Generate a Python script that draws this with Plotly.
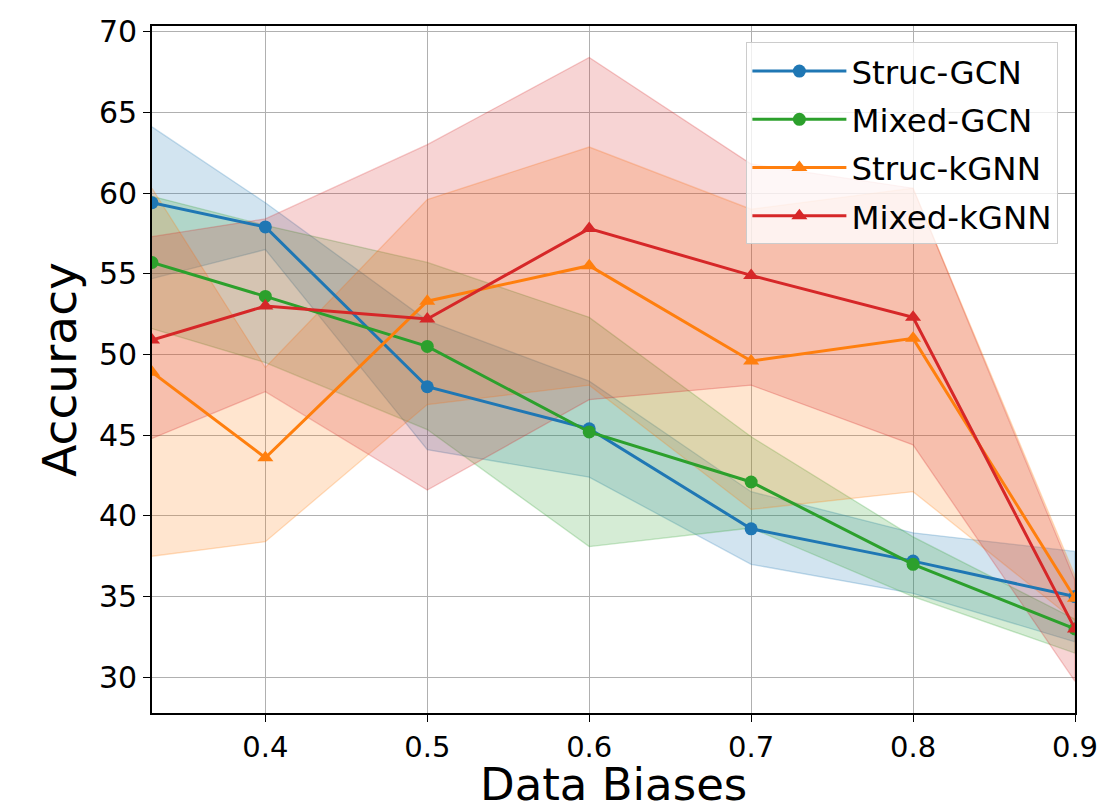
import plotly.graph_objects as go

x_vals = [0.33, 0.4, 0.5, 0.6, 0.7, 0.8, 0.9]
x_ticks = [0.4, 0.5, 0.6, 0.7, 0.8, 0.9]
y_ticks = [30, 35, 40, 45, 50, 55, 60, 65, 70]

series_names = ["Struc-GCN", "Mixed-GCN", "Struc-kGNN", "Mixed-kGNN"]

struc_gcn_mean = [59.4, 57.9, 48.0, 45.4, 39.2, 37.2, 35.0]
struc_gcn_upper = [64.1, 59.4, 52.1, 48.35, 41.5, 38.95, 37.8]
struc_gcn_lower = [54.7, 56.5, 44.1, 42.4, 37.0, 35.2, 32.2]

mixed_gcn_mean = [55.7, 53.6, 50.5, 45.2, 42.1, 37.0, 33.0]
mixed_gcn_upper = [59.8, 58.0, 55.7, 52.3, 44.9, 38.7, 33.6]
mixed_gcn_lower = [51.6, 49.5, 45.35, 38.1, 39.25, 35.0, 31.5]

struc_kgnn_mean = [48.9, 43.6, 53.3, 55.5, 49.6, 51.0, 34.9]
struc_kgnn_upper = [60.3, 49.2, 59.6, 62.85, 59.0, 60.3, 36.3]
struc_kgnn_lower = [37.5, 38.4, 46.9, 48.1, 40.4, 41.5, 33.5]

mixed_kgnn_mean = [50.9, 53.0, 52.2, 57.8, 54.9, 52.3, 33.0]
mixed_kgnn_upper = [57.3, 58.4, 63.0, 68.4, 61.8, 60.3, 36.0]
mixed_kgnn_lower = [44.8, 47.7, 41.6, 47.2, 48.1, 44.4, 29.75]

colors = ["31,119,180", "44,160,44", "255,127,14", "214,39,40"]
symbols = ["circle", "circle", "triangle-up", "triangle-up"]
means = [struc_gcn_mean, mixed_gcn_mean, struc_kgnn_mean, mixed_kgnn_mean]
uppers = [struc_gcn_upper, mixed_gcn_upper, struc_kgnn_upper, mixed_kgnn_upper]
lowers = [struc_gcn_lower, mixed_gcn_lower, struc_kgnn_lower, mixed_kgnn_lower]

FONT = "DejaVu Sans"
fig = go.Figure()

for name, c, up, lo in zip(series_names, colors, uppers, lowers):
    fig.add_trace(go.Scatter(
        x=x_vals + x_vals[::-1], y=up + lo[::-1],
        fill="toself", fillcolor=f"rgba({c},0.2)",
        line=dict(color=f"rgba({c},0.25)", width=1.3),
        mode="lines", showlegend=False, hoverinfo="skip"))

for name, c, sym, m in zip(series_names, colors, symbols, means):
    fig.add_trace(go.Scatter(
        x=x_vals, y=m, name=name, legendgroup=name,
        mode="lines+markers",
        line=dict(color=f"rgb({c})", width=3),
        marker=dict(symbol=sym, size=13 if sym == "circle" else 14, color=f"rgb({c})")))

axis_common = dict(
    showline=True, linecolor="black", linewidth=1.6, mirror=True,
    ticks="outside", ticklen=7, tickwidth=1.4, tickcolor="black",
    showgrid=True, gridcolor="#b0b0b0", gridwidth=1.2, zeroline=False,
)

fig.update_layout(
    width=1103, height=807,
    margin=dict(l=152, r=28, t=26, b=94),
    paper_bgcolor="white", plot_bgcolor="white",
    font=dict(family=FONT, color="black"),
    xaxis=dict(range=[0.33, 0.9], tickvals=x_ticks, ticktext=[f"{t:.1f}" for t in x_ticks],
               automargin=False, tickfont=dict(family=FONT, size=29, color="black"),
               **axis_common),
    yaxis=dict(range=[27.79, 70.35], tickvals=y_ticks, automargin=False,
               tickfont=dict(family=FONT, size=30, color="black"),
               title=dict(text="Accuracy", font=dict(family=FONT, size=47), standoff=8),
               **axis_common),
    legend=dict(x=0.982, y=0.976, xanchor="right", yanchor="top",
                bgcolor="rgba(255,255,255,0.8)", bordercolor="#cccccc", borderwidth=1,
                font=dict(family=FONT, size=32.5, color="black"),
                itemwidth=94, tracegroupgap=3, traceorder="grouped"),
    annotations=[dict(text="Data Biases", xref="paper", yref="paper", x=0.5, y=0,
                      xanchor="center", yanchor="top", yshift=-43, showarrow=False,
                      font=dict(family=FONT, size=45, color="black"))],
)

fig.write_html("out.html")
